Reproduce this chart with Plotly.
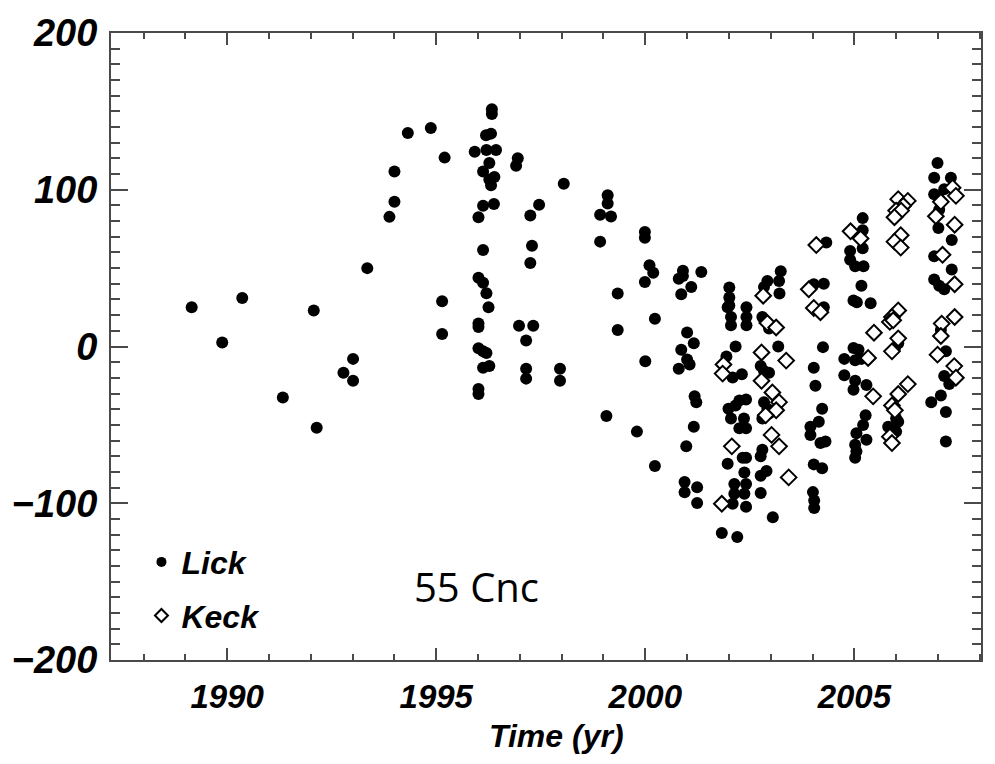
import plotly.graph_objects as go

# ---- data (year, radial velocity m/s) ----
lick_t = [
    1989.15, 1989.88, 1990.36, 1991.33, 1992.07, 1992.14, 1992.78, 1993.01, 1993.01, 1993.35,
    1993.88, 1994.00, 1994.00, 1994.32, 1994.87, 1995.20, 1995.14, 1995.14,
    1996.33, 1996.33, 1996.19, 1996.31, 1995.92, 1996.20, 1996.43, 1996.27, 1996.12, 1996.39,
    1996.27, 1996.31, 1996.12, 1996.38, 1996.01, 1996.12, 1996.01, 1996.12, 1996.20, 1996.25,
    1996.01, 1996.01, 1996.01, 1996.12, 1996.20, 1996.12, 1996.27, 1996.01, 1996.01,
    1996.95, 1996.91, 1998.05, 1997.46, 1997.25, 1997.29, 1997.25, 1996.98, 1997.32, 1997.15,
    1997.15, 1997.15, 1997.96, 1997.96,
    1999.10, 1999.10, 1998.92, 1999.18, 1998.92, 1999.99, 1999.99, 2000.10, 2000.19, 1999.99,
    1999.34, 2000.23, 1999.34, 2000.00, 1999.07, 1999.80, 2000.23,
    2000.90, 2000.80, 2000.90, 2001.34, 2001.10, 2000.86, 2001.00, 2001.16, 2000.86, 2001.00,
    2001.06, 2000.80, 2001.18, 2001.22, 2001.16, 2000.98, 2000.94, 2000.94, 2001.24, 2001.24,
    2002.01, 2002.01, 2002.01, 2001.97, 2002.05, 2002.05, 2002.42, 2002.42, 2002.42, 2002.16,
    2001.94, 2002.09, 2002.31, 2002.25, 2002.41, 2001.99, 2002.16, 2002.05, 2002.36, 2002.25,
    2002.41, 2001.97, 2002.33, 2002.41, 2002.37, 2002.13, 2002.41, 2002.13, 2002.37, 2002.09,
    2002.41, 2001.83, 2002.20,
    2003.24, 2003.20, 2002.92, 2002.84, 2003.21, 2002.80, 2002.96, 2003.18, 2002.76, 2002.84,
    2002.96, 2002.84, 2002.92, 2002.96, 2002.80, 2002.80, 2002.76, 2002.90, 2002.76, 2002.76,
    2003.05,
    2004.33, 2004.03, 2004.27, 2004.27, 2004.25, 2004.03, 2004.07, 2004.23, 2004.15, 2003.95,
    2003.95, 2004.19, 2004.31, 2004.03, 2004.23, 2004.01, 2004.04, 2004.04,
    2005.20, 2005.20, 2005.20, 2004.90, 2004.90, 2005.02, 2005.22, 2005.17, 2004.98, 2005.06,
    2005.39, 2004.98, 2005.10, 2004.76, 2005.02, 2005.17, 2004.76, 2005.02, 2005.29, 2004.98,
    2005.27, 2005.21, 2005.05, 2005.29, 2005.02, 2005.05, 2005.02,
    2006.07, 2006.03, 2005.97, 2006.05, 2005.97, 2006.00, 2005.81, 2006.05, 2006.00,
    2006.99, 2006.91, 2007.31, 2006.91, 2007.03, 2007.15, 2007.03, 2007.01, 2007.33, 2006.91,
    2007.33, 2006.91, 2007.03, 2007.15, 2007.07, 2007.19, 2007.15, 2007.27, 2007.07, 2006.84,
    2007.19, 2007.19,
]
lick_v = [
    25.0, 2.5, 31.0, -32.6, 23.0, -51.8, -16.7, -7.9, -21.9, 50.0,
    82.7, 92.3, 111.7, 136.2, 139.4, 120.5, 28.8, 8.0,
    151.4, 148.3, 134.7, 135.8, 124.2, 125.3, 125.3, 117.0, 111.7, 108.2,
    106.5, 102.8, 89.8, 90.9, 82.5, 61.6, 43.9, 40.7, 34.0, 25.1,
    14.6, 12.5, -1.1, -3.1, -4.2, -13.6, -12.5, -27.1, -30.3,
    120.1, 115.3, 103.8, 90.4, 83.5, 64.3, 53.3, 13.2, 13.2, 3.8,
    -14.2, -20.5, -14.2, -21.9,
    96.5, 91.3, 84.0, 82.9, 66.9, 73.1, 69.4, 51.8, 47.0, 41.2,
    33.8, 17.7, 10.5, -9.4, -44.3, -54.3, -76.2,
    48.4, 43.2, 44.9, 47.6, 38.0, 33.4, 9.0, 2.1, -2.1, -8.3,
    -11.5, -14.2, -31.8, -35.5, -51.2, -63.7, -86.5, -93.0, -89.8, -99.8,
    37.6, 31.3, 26.1, 25.0, 18.8, 13.6, 25.0, 18.8, 13.6, 0.0,
    -6.3, -19.8, -17.7, -34.5, -33.8, -39.7, -37.6, -45.9, -45.9, -52.2,
    -52.2, -74.8, -71.0, -71.0, -80.4, -87.7, -87.7, -94.0, -94.0, -100.3,
    -102.3, -119.0, -121.6,
    48.0, 41.8, 41.8, 38.0, 33.8, 18.8, 11.5, 0.0, -12.5, -15.7,
    -16.7, -35.5, -39.7, -42.8, -45.9, -65.8, -70.0, -79.4, -82.5, -93.5,
    -109.0,
    66.4, 39.7, 40.1, 25.1, -0.4, -13.6, -25.1, -39.7, -48.0, -51.2,
    -56.4, -61.6, -60.6, -75.2, -77.7, -92.9, -98.2, -103.0,
    81.9, 74.1, 62.7, 61.0, 55.3, 51.2, 51.2, 38.7, 29.3, 28.2,
    27.6, -1.0, -2.1, -7.9, -8.8, -7.9, -18.4, -21.9, -24.6, -27.6,
    -43.9, -50.1, -55.3, -59.5, -62.7, -66.9, -71.0,
    85.0, 68.0, 20.9, 2.1, -1.1, -45.9, -51.2, -48.0, -54.3,
    117.0, 107.6, 107.6, 97.1, 94.0, 100.3, 87.3, 75.6, 67.9, 57.5,
    49.1, 42.8, 38.7, 36.5, 10.5, -3.1, -18.8, -24.0, -31.3, -35.5,
    -41.8, -60.6,
]

keck_t = [
    2001.87, 2001.85, 2002.07, 2001.83, 2002.82, 2002.92, 2003.13, 2002.78, 2003.37, 2002.78,
    2003.04, 2003.20, 2003.13, 2002.88, 2003.02, 2003.20, 2003.43,
    2004.09, 2003.91, 2004.03, 2004.19, 2004.91, 2005.15, 2005.47, 2005.33, 2005.45,
    2006.05, 2006.28, 2006.17, 2006.00, 2006.12, 2005.96, 2006.11, 2005.96, 2006.11, 2006.05,
    2005.90, 2005.85, 2005.93, 2006.05, 2005.90, 2006.28, 2006.05, 2005.90, 2005.97, 2005.85,
    2005.90,
    2007.35, 2007.43, 2007.07, 2006.95, 2007.40, 2007.11, 2007.40, 2007.40, 2007.09, 2007.07,
    2006.99, 2007.39, 2007.43,
]
keck_v = [
    -11.5, -17.3, -63.7, -100.3, 32.4, 15.0, 12.1, -3.8, -9.0, -21.9,
    -29.3, -35.5, -40.7, -43.9, -56.4, -63.7, -83.5,
    64.7, 36.5, 24.6, 21.9, 73.5, 68.9, 8.8, -7.3, -31.8,
    94.0, 92.9, 89.8, 86.7, 86.7, 82.5, 71.0, 66.9, 63.1, 23.0,
    18.8, 15.7, 16.7, 5.2, -3.1, -24.0, -30.3, -37.6, -40.7, -57.5,
    -61.6,
    101.3, 96.1, 92.3, 83.1, 77.7, 58.5, 39.7, 18.8, 14.6, 6.7,
    -5.2, -12.5, -19.9,
]

x_range = [1987.22, 2008.03]
y_range = [-200, 200]
x_tickvals = [1990, 1995, 2000, 2005]
y_tickvals = [-200, -100, 0, 100, 200]

FONT = "Liberation Sans"
AX = "#4a4a4a"
BI = dict(weight="bold", style="italic", color="black", family=FONT)

fig = go.Figure()
fig.add_trace(go.Scatter(x=lick_t, y=lick_v, mode="markers", showlegend=False,
                         marker=dict(symbol="circle", size=12, color="black")))
fig.add_trace(go.Scatter(x=keck_t, y=keck_v, mode="markers", showlegend=False,
                         marker=dict(symbol="diamond", size=12, color="white",
                                     line=dict(color="black", width=2))))
# legend entries (smaller symbols, as in the original)
fig.add_trace(go.Scatter(x=[None], y=[None], mode="markers", name="Lick", legendgroup="a",
                         marker=dict(symbol="circle", size=10, color="black")))
fig.add_trace(go.Scatter(x=[None], y=[None], mode="markers", name="Keck", legendgroup="b",
                         marker=dict(symbol="diamond", size=10, color="white",
                                     line=dict(color="black", width=2))))

fig.update_layout(
    width=995, height=764,
    margin=dict(l=107, r=12, t=21, b=104),
    paper_bgcolor="white", plot_bgcolor="white",
    font=dict(family=FONT, color="black"),
    legend=dict(x=0.035, y=0.2, xanchor="left", yanchor="top",
                bgcolor="rgba(0,0,0,0)", tracegroupgap=9,
                font=dict(size=32, **BI)),
    annotations=[
        dict(text="55 Cnc", xref="paper", yref="paper", x=0.42, y=0.118,
             xanchor="center", yanchor="middle", showarrow=False,
             font=dict(family="Open Sans", size=40, color="black")),
        dict(text="Time (yr)", xref="paper", yref="paper", x=0.5126, y=-0.121,
             xanchor="center", yanchor="middle", showarrow=False,
             font=dict(size=32, **BI)),
    ],
)

fig.update_xaxes(
    range=x_range, tickmode="array", tickvals=x_tickvals,
    ticks="inside", ticklen=12, tickwidth=2, tickcolor=AX,
    minor=dict(dtick=1, ticks="inside", ticklen=6, tickwidth=2, tickcolor=AX),
    showline=True, linecolor=AX, linewidth=2, mirror="ticks",
    showgrid=False, zeroline=False,
    tickfont=dict(size=33, **BI),
    ticklabelstandoff=6,
)
fig.update_yaxes(
    range=y_range, tickmode="array", tickvals=y_tickvals,
    ticks="inside", ticklen=17, tickwidth=2, tickcolor=AX,
    minor=dict(dtick=10, ticks="inside", ticklen=9, tickwidth=2, tickcolor=AX),
    showline=True, linecolor=AX, linewidth=2, mirror="ticks",
    showgrid=False, zeroline=False,
    tickfont=dict(size=38, **BI),
    ticklabelstandoff=4,
)

fig.write_html("out.html")
